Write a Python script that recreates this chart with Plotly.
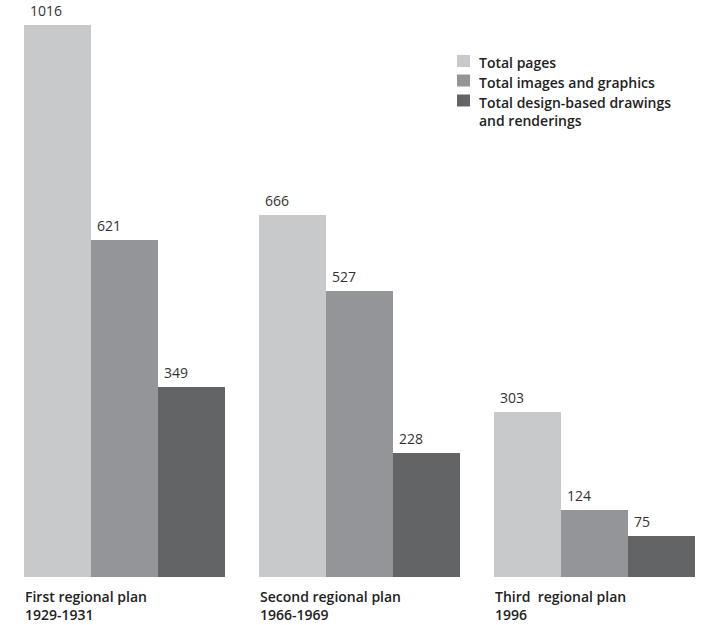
import plotly.graph_objects as go

plans = ["First regional plan<br>1929-1931", "Second regional plan<br>1966-1969", "Third  regional plan<br>1996"]
series_names = ["Total pages", "Total images and graphics", "Total design-based drawings<br>and renderings"]
total_pages = [1016, 666, 303]
total_images = [621, 527, 124]
total_drawings = [349, 228, 75]
colors = ["#c8c9cb", "#939598", "#636466"]

values = [total_pages, total_images, total_drawings]
bar_w = 0.285
offsets = [-bar_w, 0.0, bar_w]
group_x = list(range(len(plans)))

# plot area in pixels (used to place the hand-drawn legend in paper coords)
W, H = 716, 625
M = dict(l=7, r=4, t=6, b=48)
pw, ph = W - M["l"] - M["r"], H - M["t"] - M["b"]


def px_x(px):
    return (px - M["l"]) / pw


def px_y(py):
    return (H - M["b"] - py) / ph


fig = go.Figure()
for name, vals, col, off in zip(series_names, values, colors, offsets):
    fig.add_trace(go.Bar(
        x=[g + off for g in group_x], y=vals, width=bar_w, name=name,
        marker=dict(color=col, line=dict(width=0)),
        hoverinfo="skip", showlegend=False,
    ))
    # value labels, left-aligned over each bar
    for g, v in zip(group_x, vals):
        fig.add_annotation(
            x=g + off - bar_w / 2, y=v, xref="x", yref="y",
            text=str(v), showarrow=False, xanchor="left", yanchor="bottom",
            xshift=4, yshift=3,
            font=dict(family="Open Sans", size=14, color="#333333"),
        )

# group labels under the baseline
for g, lab in zip(group_x, plans):
    fig.add_annotation(
        x=g - 1.5 * bar_w, y=0, xref="x", yref="y",
        text=lab, showarrow=False, xanchor="left", yanchor="top", align="left",
        xshift=-1, yshift=-8,
        font=dict(family="Open Sans", size=14, color="#222222", weight=600),
    )

# legend: swatches and labels
row_centers = [61, 80.5, 100.5]
for name, col, cy in zip(series_names, colors, row_centers):
    fig.add_shape(
        type="rect", xref="paper", yref="paper",
        x0=px_x(457), x1=px_x(470), y0=px_y(cy + 6), y1=px_y(cy - 6),
        fillcolor=col, line=dict(width=0),
    )
    fig.add_annotation(
        x=px_x(477), y=px_y(cy - 10), xref="paper", yref="paper",
        text=name, showarrow=False, xanchor="left", yanchor="top", align="left",
        font=dict(family="Open Sans", size=14, color="#222222", weight=600),
    )

fig.update_layout(
    width=W, height=H,
    margin=M,
    plot_bgcolor="white", paper_bgcolor="white",
    barmode="overlay", bargap=0,
    showlegend=False,
    xaxis=dict(range=[-0.5, 2.5], showgrid=False, zeroline=False, showticklabels=False,
               showline=False, ticks=""),
    yaxis=dict(range=[0, 1051], showgrid=False, zeroline=False, showticklabels=False,
               showline=False, ticks=""),
)

fig.write_html("out.html")
